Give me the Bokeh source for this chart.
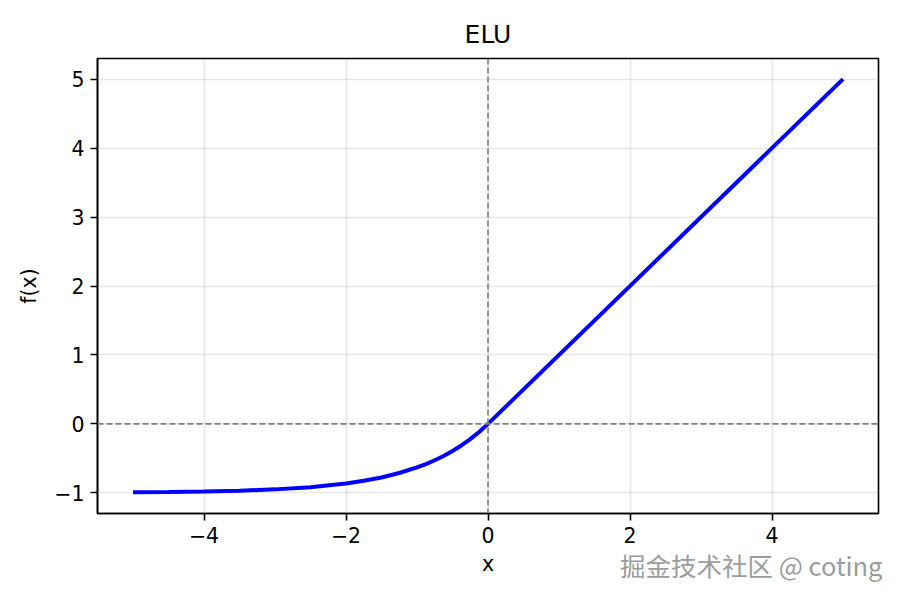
from bokeh.plotting import figure
from bokeh.models import FixedTicker, CustomJSTickFormatter, Span, Range1d, Title
from bokeh.embed import file_html
from bokeh.resources import INLINE

# Data (ELU curve)
xs = [-5.0, -4.5, -4.0, -3.5, -3.0, -2.5, -2.0, -1.75, -1.5, -1.25, -1.0, -0.875,
      -0.75, -0.625, -0.5, -0.375, -0.25, -0.125, 0.0, 5.0]
ys = [-0.993, -0.989, -0.982, -0.970, -0.950, -0.918, -0.865, -0.826, -0.777, -0.713,
      -0.632, -0.583, -0.528, -0.465, -0.393, -0.313, -0.221, -0.118, 0.0, 5.0]
x_ticks = [-4, -2, 0, 2, 4]
y_ticks = [-1, 0, 1, 2, 3, 4, 5]
title_text = "ELU"
x_label = "x"
y_label = "f(x)"
watermark = "掘金技术社区 @ coting"

FONT = "DejaVu Sans"

p = figure(width=884, height=584, output_backend="svg", toolbar_location=None,
           x_range=Range1d(-5.5, 5.5), y_range=Range1d(-1.3, 5.3),
           min_border_left=97, min_border_right=6, min_border_top=58, min_border_bottom=71,
           title=title_text)

p.title.align = "center"
p.title.text_font = FONT
p.title.text_font_size = "25px"
p.title.text_font_style = "normal"
p.title.text_color = "black"
p.title.offset = 0
p.title.standoff = 20

p.outline_line_color = "black"
p.outline_line_width = 1.6
p.outline_line_alpha = 1

fmt = CustomJSTickFormatter(code="return tick < 0 ? '\\u2212' + (-tick) : '' + tick;")

for ax, ticks in ((p.xaxis[0], x_ticks), (p.yaxis[0], y_ticks)):
    ax.ticker = FixedTicker(ticks=ticks)
    ax.formatter = fmt
    ax.major_label_text_font = FONT
    ax.major_label_text_font_size = "20.5px"
    ax.major_label_text_color = "black"
    ax.axis_label_text_font = FONT
    ax.axis_label_text_font_size = "20.5px"
    ax.axis_label_text_font_style = "normal"
    ax.axis_label_text_color = "black"
    ax.major_tick_in = 0
    ax.major_tick_out = 7
    ax.major_tick_line_width = 1.6
    ax.major_tick_line_color = "black"
    ax.minor_tick_line_color = None
    ax.axis_line_color = "black"
    ax.axis_line_width = 1.6
    ax.major_label_standoff = 6

p.xaxis[0].axis_label = x_label
p.xaxis[0].axis_label_standoff = 6
p.yaxis[0].axis_label = y_label
p.yaxis[0].axis_label_standoff = 10
p.yaxis[0].major_label_orientation = "horizontal"

p.xgrid.ticker = FixedTicker(ticks=x_ticks)
p.ygrid.ticker = FixedTicker(ticks=y_ticks)
for g in (p.xgrid[0], p.ygrid[0]):
    g.grid_line_color = "#b0b0b0"
    g.grid_line_alpha = 0.3
    g.grid_line_width = 1.6

p.add_layout(Span(location=0, dimension="width", line_color="gray", line_dash="6 3", line_width=1.6))
p.add_layout(Span(location=0, dimension="height", line_color="gray", line_dash="6 3", line_width=1.6))

p.line(xs, ys, line_color="#0000ff", line_width=4)

wm = Title(text=watermark, align="right", vertical_align="top", standoff=-66, offset=-4,
           text_font="Noto Sans CJK SC", text_font_size="25.5px", text_font_style="normal",
           text_color="#9c9c9c")
p.add_layout(wm, "below")

p.background_fill_color = "white"
p.border_fill_color = "white"

open("out.html", "w").write(file_html(p, INLINE))
